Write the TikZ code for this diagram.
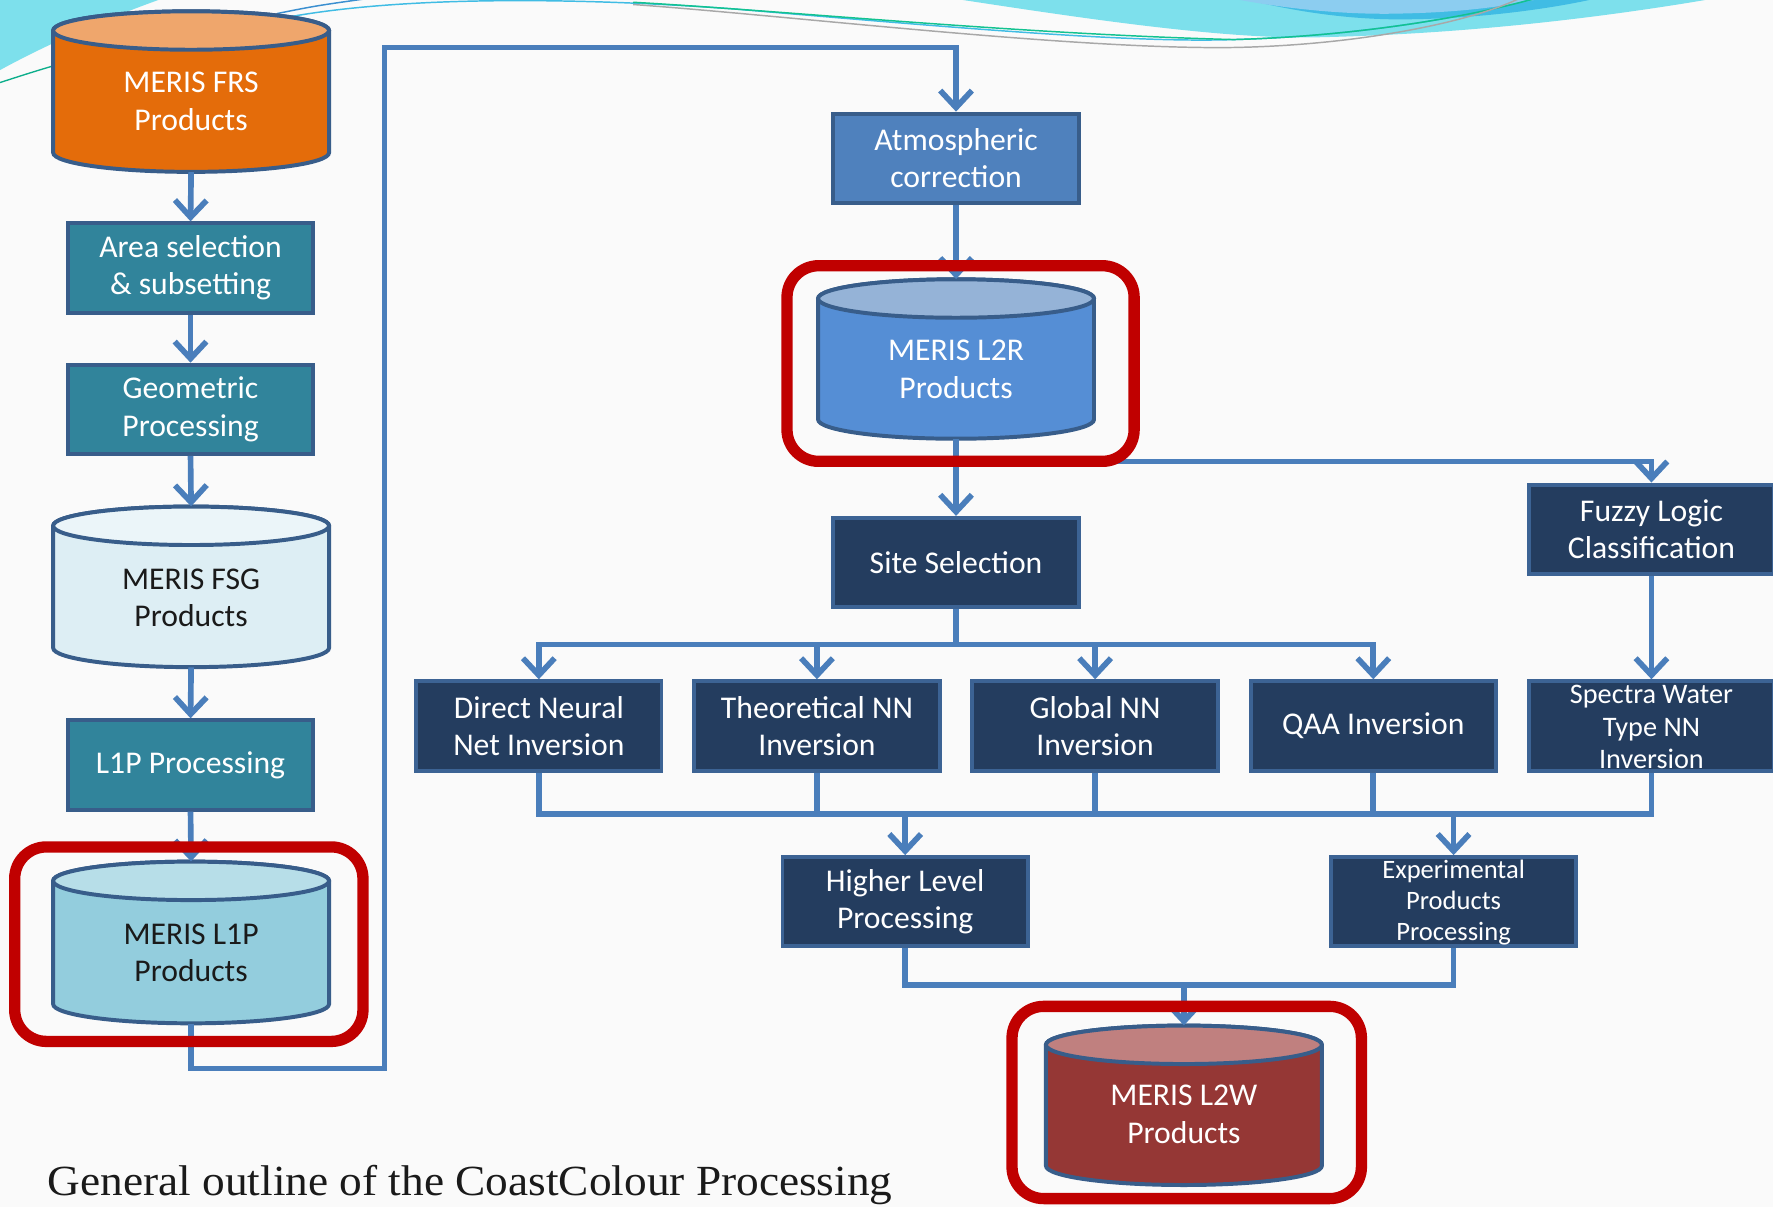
\documentclass[tikz,border=0pt]{standalone}
\usepackage{fontspec}
\setmainfont{Carlito}
\newfontfamily\capfont[FakeStretch=1.055]{Liberation Serif}
\usetikzlibrary{arrows.meta}
\definecolor{conncol}{HTML}{4A7EBB}
\definecolor{boxborder}{HTML}{385D8A}
\definecolor{tealfill}{HTML}{31849B}
\definecolor{atmfill}{HTML}{4F81BD}
\definecolor{navyfill}{HTML}{243D5F}
\definecolor{navyborder}{HTML}{3C6394}
\definecolor{redcol}{HTML}{C00000}
\definecolor{frsbody}{HTML}{E46C0A}
\definecolor{frstop}{HTML}{EFA66C}
\definecolor{fsgbody}{HTML}{DDEEF4}
\definecolor{fsgtop}{HTML}{EBF5F9}
\definecolor{lipbody}{HTML}{93CDDD}
\definecolor{liptop}{HTML}{B7DEE8}
\definecolor{lrbody}{HTML}{558ED5}
\definecolor{lrtop}{HTML}{95B3D7}
\definecolor{lwbody}{HTML}{953735}
\definecolor{lwtop}{HTML}{C0807F}
\definecolor{swoosh}{HTML}{7DE0EC}
\definecolor{swooshlight}{HTML}{8CCDF0}
\definecolor{swooshdark}{HTML}{40BCE4}
\definecolor{wavegreen}{HTML}{12C290}
\definecolor{wavegray}{HTML}{A8A8A8}
\definecolor{waveblue}{HTML}{3B8FD0}
\definecolor{bgcol}{HTML}{FAFAFA}
\definecolor{darktext}{HTML}{1A1A1A}
\tikzset{
 box/.style={draw=boxborder, line width=3.5pt, minimum width=217pt, minimum height=79pt, inner sep=0pt, align=center, text=white, font=\fontsize{28}{33}\selectfont},
 tealbox/.style={box, fill=tealfill},
 atmbox/.style={box, fill=atmfill},
 navybox/.style={box, fill=navyfill, draw=navyborder},
 lbl/.style={align=center, inner sep=0pt, text=white},
 conn/.style={draw=conncol, line width=5pt},
 arr/.style={conn, -{Straight Barb[length=15pt, width=28pt]}},
 redframe/.style={draw=redcol, line width=10pt, rounded corners=28pt},
 cylnode/.style={minimum width=244pt, inner sep=0pt, draw=none},
 cyltext/.style={align=center, inner sep=0pt, font=\fontsize{28}{33}\selectfont},
}
% #1 cx, #2 top, #3 bottom, #4 body colour, #5 top colour, #6 name
\newcommand\dbcyl[6]{%
 \path[fill=#4, draw=boxborder, line width=3.5pt] (#1-122,#2+17) -- (#1-122,#3-17)
   arc[start angle=180, end angle=360, x radius=122pt, y radius=17pt] -- (#1+122,#2+17)
   arc[start angle=0, end angle=180, x radius=122pt, y radius=17pt] -- cycle;
 \path[fill=#5, draw=boxborder, line width=3.5pt] (#1,#2+17) ellipse[x radius=122pt, y radius=17pt];
 \node[cylnode, minimum height=#3-#2] (#6) at (#1,{(#2+#3)/2}) {};
}
\begin{document}
\begin{tikzpicture}[x=1pt,y=-1pt]
\clip (0,0) rectangle (1568,1067);
\fill[bgcol] (0,0) rectangle (1568,1067);
% decorations
\fill[swoosh] (0,0) -- (140,0) .. controls (90,18) and (40,40) .. (0,62) -- cycle;
\draw[wavegreen!70!teal, line width=1.2pt] (0,73) .. controls (25,65) and (45,58) .. (120,38);
\fill[swoosh] (845,-1) .. controls (950,15) and (1080,35) .. (1165,33) .. controls (1300,30) and (1420,15) .. (1514,-1) -- cycle;
\fill[swooshdark] (1100,-1) .. controls (1160,14) and (1210,18) .. (1250,17) .. controls (1310,16) and (1370,8) .. (1410,-1) -- cycle;
\fill[swooshlight] (1091,-1) .. controls (1150,10) and (1200,13) .. (1238,12) .. controls (1290,11) and (1330,6) .. (1361,-1) -- cycle;
\draw[waveblue, line width=1.3pt] (245,12) .. controls (280,5) .. (330,-2);
\draw[swooshdark, line width=1.3pt] (250,16) .. controls (350,-3) and (500,-3) .. (650,8) .. controls (850,25) and (1000,38) .. (1091,35) .. controls (1200,32) and (1300,15) .. (1360,-2);
\draw[wavegreen, line width=1.3pt] (560,2) .. controls (700,10) and (900,30) .. (1091,35) .. controls (1200,32) and (1300,15) .. (1360,-2);
\draw[wavegray, line width=1.3pt] (560,4) .. controls (700,14) and (950,44) .. (1091,42) .. controls (1200,40) and (1300,20) .. (1345,-2);
% boxes
\node[tealbox] (area) at (168.5,237) {Area selection\\\& subsetting};
\node[tealbox] (geo) at (168.5,362) {Geometric\\Processing};
\node[tealbox] (lpproc) at (168.5,676.5) {L1P Processing};
\node[atmbox] (atm) at (845.5,140) {Atmospheric\\correction};
\node[navybox] (site) at (845.5,497.5) {Site Selection};
\node[navybox] (fuzzy) at (1460.5,468) {Fuzzy Logic\\Classification};
\node[navybox] (spectra) at (1460.5,642) {};
\node[lbl, font=\fontsize{25}{29}\selectfont] (spectra-t) at (1460.5,643) {Spectra Water\\Type NN\\Inversion};
\node[navybox] (dnn) at (476.5,642) {Direct Neural\\Net Inversion};
\node[navybox] (tnn) at (722.5,642) {Theoretical NN\\Inversion};
\node[navybox] (gnn) at (968.5,642) {Global NN\\Inversion};
\node[navybox] (qaa) at (1214.5,642) {QAA Inversion};
\node[navybox] (hlp) at (800.5,797.5) {Higher Level\\Processing};
\node[navybox] (exp) at (1285.5,797.5) {};
\node[lbl, font=\fontsize{23.5}{27.5}\selectfont] (exp-t) at (1285.5,798.5) {Experimental\\Products\\Processing};
% cylinders
\dbcyl{169}{10}{152}{frsbody}{frstop}{frs}
\dbcyl{169}{448}{590}{fsgbody}{fsgtop}{fsg}
\dbcyl{169}{762}{905}{lipbody}{liptop}{lp}
\dbcyl{845.5}{247}{388}{lrbody}{lrtop}{lr}
\dbcyl{1047}{907}{1048}{lwbody}{lwtop}{lw}
\node[cyltext, text=white] (frs-t) at (169,89.5) {MERIS FRS\\Products};
\node[cyltext, text=darktext] (fsg-t) at (169,528.5) {MERIS FSG\\Products};
\node[cyltext, text=darktext] (lp-t) at (169,842.5) {MERIS L1P\\Products};
\node[cyltext, text=white] (lr-t) at (845.5,326.5) {MERIS L2R\\Products};
\node[cyltext, text=white] (lw-t) at (1047,985.5) {MERIS L2W\\Products};
% helper coordinates
\coordinate (loopbot) at (340,945);
\coordinate (looptop) at (340,42);
\coordinate (fz) at (845.5,408);
\coordinate (busa) at (845.5,570);
\coordinate (busbl) at (476.5,720);
\coordinate (busbr) at (1460.5,720);
\coordinate (busc) at (800.5,871);
% connectors
\draw[arr] (frs.south) -- (area.north);
\draw[arr] (area.south) -- (geo.north);
\draw[arr] (geo.south) -- (fsg.north);
\draw[arr] (fsg.south) -- (lpproc.north);
\draw[arr] (lpproc.south) -- (lp.north);
\draw[arr] (lp.south) |- (loopbot) -- (looptop) -| (atm.north);
\draw[arr] (atm.south) -- (lr.north);
\draw[arr] (lr.south) -- (site.north);
\draw[arr] (fz) -| (fuzzy.north);
\draw[arr] (fuzzy.south) -- (spectra.north);
\draw[conn] (site.south) -- (busa);
\draw[arr] (busa) -| (dnn.north);
\draw[arr] (busa) -| (tnn.north);
\draw[arr] (busa) -| (gnn.north);
\draw[arr] (busa) -| (qaa.north);
\draw[conn] (dnn.south) -- (busbl) -- (busbr) -- (spectra.south);
\draw[conn] (tnn.south) -- (tnn.south |- busbl);
\draw[conn] (gnn.south) -- (gnn.south |- busbl);
\draw[conn] (qaa.south) -- (qaa.south |- busbl);
\draw[arr] (hlp.north |- busbl) -- (hlp.north);
\draw[arr] (exp.north |- busbl) -- (exp.north);
\draw[conn] (hlp.south) -- (busc) -- (exp.south |- busc) -- (exp.south);
\draw[arr] (lw.north |- busc) -- (lw.north);
% red frames
\draw[redframe] (13,749) rectangle (321,921);
\draw[redframe] (696,235) rectangle (1003,408);
\draw[redframe] (895,890) rectangle (1204,1060);
% caption
\node[anchor=base west, inner sep=0pt, font=\capfont\fontsize{38}{40}\selectfont, text=darktext] (caption) at (42,1057) {General outline of the CoastColour Processing};
\end{tikzpicture}
\end{document}
